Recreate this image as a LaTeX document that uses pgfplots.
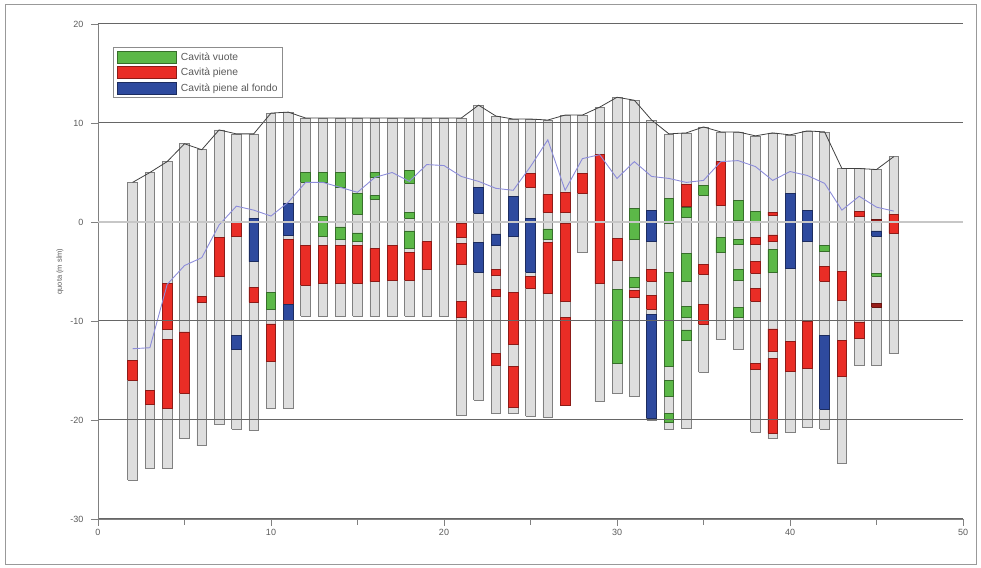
\documentclass[border=0pt]{standalone}
\usepackage{fontspec}
\setmainfont{Liberation Sans}
\usepackage{pgfplots}
\usepackage{pgfplotstable}
\pgfplotsset{compat=1.18}

\definecolor{colfill}{RGB}{222,222,222}
\definecolor{colborder}{RGB}{128,128,128}
\definecolor{cavgreen}{RGB}{92,184,72}
\definecolor{cavred}{RGB}{233,45,38}
\definecolor{cavblue}{RGB}{46,74,158}
\definecolor{waterline}{RGB}{140,140,218}
\definecolor{labelgray}{RGB}{90,90,90}

% boreholes: position, bottom and top elevation (m slm)
\pgfplotstableread{
x lo hi
2 -26.1 4.0
3 -24.9 5.0
4 -24.9 6.1
5 -21.9 7.9
6 -22.6 7.3
7 -20.4 9.3
8 -20.9 8.9
9 -21.0 8.9
10 -18.8 11.0
11 -18.8 11.1
12 -9.5 10.5
13 -9.5 10.5
14 -9.5 10.5
15 -9.5 10.5
16 -9.5 10.5
17 -9.5 10.5
18 -9.5 10.5
19 -9.5 10.5
20 -9.5 10.5
21 -19.5 10.5
22 -18.0 11.8
23 -19.3 10.7
24 -19.3 10.4
25 -19.6 10.4
26 -19.7 10.3
27 -18.5 10.8
28 -3.1 10.8
29 -18.1 11.6
30 -17.3 12.6
31 -17.6 12.3
32 -20.0 10.3
33 -20.9 8.9
34 -20.8 9.0
35 -15.2 9.6
36 -11.9 9.1
37 -12.9 9.1
38 -21.2 8.7
39 -21.9 9.0
40 -21.2 8.8
41 -20.7 9.2
42 -20.9 9.1
43 -24.4 5.4
44 -14.5 5.4
45 -14.5 5.3
46 -13.3 6.6
}\boreholes

% empty cavities
\pgfplotstableread{
x lo hi
10 -8.8 -7.1
12 4.0 5.0
13 4.0 5.0
13 -1.4 0.6
14 3.5 5.0
14 -1.8 -0.5
15 0.8 2.9
15 -2.0 -1.1
16 4.5 5.0
16 2.3 2.7
18 3.9 5.2
18 0.4 1.0
18 -2.7 -0.9
26 -1.8 -0.7
30 -14.3 -6.8
31 -1.8 1.4
31 -6.6 -5.6
33 -0.1 2.4
33 -14.6 -5.1
33 -17.6 -16.0
33 -20.2 -19.3
34 0.5 1.5
34 -6.0 -3.2
34 -9.6 -8.5
34 -12.0 -10.9
35 2.7 3.7
36 -3.1 -1.6
37 0.2 2.2
37 -2.3 -1.8
37 -5.9 -4.8
37 -9.6 -8.6
38 0.0 1.1
39 -5.1 -2.8
42 -3.0 -2.4
45 -5.5 -5.2
}\cavempty

% filled cavities
\pgfplotstableread{
x lo hi
2 -16.0 -14.0
3 -18.4 -17.0
4 -10.8 -6.2
4 -18.8 -11.9
5 -17.3 -11.1
6 -8.1 -7.5
7 -5.5 -1.6
8 -1.5 0.0
9 -8.1 -6.6
10 -14.1 -10.3
11 -8.3 -1.8
12 -6.4 -2.4
13 -6.2 -2.4
14 -6.2 -2.4
15 -6.2 -2.4
16 -6.0 -2.7
17 -5.9 -2.4
18 -5.9 -3.1
19 -4.8 -2.0
21 -1.6 -0.1
21 -4.3 -2.2
21 -9.6 -8.0
23 -5.4 -4.8
23 -7.5 -6.8
23 -14.5 -13.3
24 -12.4 -7.1
24 -18.7 -14.6
25 3.5 4.9
25 -6.7 -5.5
26 1.0 2.8
26 -7.2 -2.1
27 1.0 3.0
27 -8.0 -0.1
27 -18.5 -9.6
28 2.9 4.9
29 -6.2 6.8
30 -3.9 -1.7
31 -7.6 -6.9
32 -6.0 -4.8
32 -8.8 -7.4
34 1.6 3.8
35 -5.3 -4.3
35 -10.3 -8.3
36 1.7 6.1
38 -2.3 -1.6
38 -5.2 -4.0
38 -8.0 -6.7
38 -14.9 -14.3
39 0.7 1.0
39 -2.0 -1.3
39 -13.1 -10.8
39 -21.3 -13.8
40 -15.1 -12.1
41 -14.8 -10.0
42 -6.0 -4.5
43 -7.9 -5.0
43 -15.6 -12.0
44 0.6 1.1
44 -11.8 -10.1
46 -1.1 0.8
}\cavfull

% thin filled layers (darker)
\pgfplotstableread{
x lo hi
45 0.0 0.3
45 -8.6 -8.2
}\cavthin

% cavities filled at the bottom
\pgfplotstableread{
x lo hi
8 -12.9 -11.5
9 -4.0 0.4
11 -1.3 1.9
11 -9.9 -8.3
22 0.9 3.5
22 -5.1 -2.1
23 -2.4 -1.2
24 -1.4 2.6
25 -5.1 0.4
32 -2.0 1.2
32 -19.8 -9.3
40 -4.7 2.9
41 -2.0 1.2
42 -18.9 -11.5
45 -1.4 -0.9
}\cavbottom

% water level in the boreholes
\pgfplotstableread{
x y
2 -12.8
3 -12.7
4 -6.3
5 -4.4
6 -3.6
7 -0.3
8 1.6
9 1.2
10 0.6
11 2.0
12 4.0
13 4.0
14 3.5
15 3.0
16 4.5
17 5.0
18 4.1
19 5.8
20 5.7
21 4.6
22 4.1
23 3.4
24 3.2
25 5.6
26 8.3
27 3.2
28 6.4
29 6.8
30 4.4
31 6.1
32 4.6
33 4.4
34 4.0
35 4.2
36 6.1
37 6.2
38 5.6
39 4.2
40 5.1
41 4.7
42 3.9
43 1.2
44 2.6
45 1.5
46 1.1
}\waterlevel

\newcommand\halfw{0.28}
% one outlined rectangle per table row
\newcommand\drawsegments[3]{%
  \pgfplotstablegetrowsof{#1}%
  \pgfmathtruncatemacro\lastrow{\pgfplotsretval-1}%
  \pgfplotsforeachungrouped \segrow in {0,...,\lastrow}{%
    \pgfplotstablegetelem{\segrow}{x}\of{#1}\let\segx\pgfplotsretval
    \pgfplotstablegetelem{\segrow}{lo}\of{#1}\let\seglo\pgfplotsretval
    \pgfplotstablegetelem{\segrow}{hi}\of{#1}\let\seghi\pgfplotsretval
    \pgfmathsetmacro\segl{\segx-\halfw}%
    \pgfmathsetmacro\segr{\segx+\halfw}%
    \edef\segplot{\noexpand\addplot[fill=#2,draw=#3,line width=0.7pt,line join=miter,forget plot] coordinates {(\segl,\seglo) (\segr,\seglo) (\segr,\seghi) (\segl,\seghi) (\segl,\seglo)};}%
    \segplot
  }%
}

\begin{document}
\begin{tikzpicture}
\begin{axis}[
  width=865pt, height=495pt, scale only axis,
  xmin=0, xmax=50, ymin=-30, ymax=20,
  axis lines=left,
  axis line style={-, draw=colborder, line width=0.8pt},
  axis on top,
  xtick={0,10,...,50}, minor x tick num=1,
  ytick={-30,-20,-10,10,20}, minor y tick num=1,
  extra y ticks={0},
  extra y tick style={grid style={draw=black!22, line width=2pt}},
  ymajorgrids,
  grid style={draw=black!60, line width=1pt},
  tick align=outside,
  major tick length=7pt, minor tick length=6pt,
  tick style={draw=colborder, line width=0.8pt},
  /pgf/number format/assume math mode=true,
  ticklabel style={font=\fontsize{9}{10}\selectfont, text=labelgray},
  yticklabel style={xshift=-4pt},
  ylabel={quota (m slm)},
  every axis y label/.style={at={(axis description cs:-0.044,0.5)}, rotate=90, anchor=center, font=\fontsize{7.5}{9}\selectfont, text=labelgray},
  clip=false,
  legend style={at={(axis description cs:0.017,0.953)}, anchor=north west,
    draw=black!45, line width=1pt, fill=white,
    font=\fontsize{10.3}{12}\selectfont, text=labelgray,
    inner xsep=4pt, inner ysep=3pt, row sep=3pt, column sep=3pt,
    nodes={inner sep=1pt}},
  legend cell align=left,
]
\drawsegments{\boreholes}{colfill}{colborder}
\drawsegments{\cavempty}{cavgreen}{cavgreen!60!black}
\drawsegments{\cavfull}{cavred}{cavred!60!black}
\drawsegments{\cavthin}{cavred!65!black}{cavred!45!black}
\drawsegments{\cavbottom}{cavblue}{cavblue!60!black}

% ground surface along the borehole heads
\addplot[black!75, line width=0.8pt, forget plot] table[x=x, y=hi] {\boreholes};
% water level
\addplot[waterline, line width=0.9pt, forget plot] table[x=x, y=y] {\waterlevel};

\addlegendimage{legend image code/.code={\draw[fill=cavgreen, draw=cavgreen!60!black, line width=0.7pt] (0pt,-6pt) rectangle (59pt,6pt);}}
\addlegendentry{Cavità vuote}
\addlegendimage{legend image code/.code={\draw[fill=cavred, draw=cavred!60!black, line width=0.7pt] (0pt,-6pt) rectangle (59pt,6pt);}}
\addlegendentry{Cavità piene}
\addlegendimage{legend image code/.code={\draw[fill=cavblue, draw=cavblue!60!black, line width=0.7pt] (0pt,-6pt) rectangle (59pt,6pt);}}
\addlegendentry{Cavità piene al fondo}
\end{axis}
\draw[black!40, line width=1pt] ([shift={(-92pt,-46pt)}]current axis.south west) rectangle ([shift={(13pt,19pt)}]current axis.north east);
\path ([shift={(-98pt,-49pt)}]current axis.south west) rectangle ([shift={(18pt,24pt)}]current axis.north east);
\end{tikzpicture}
\end{document}
